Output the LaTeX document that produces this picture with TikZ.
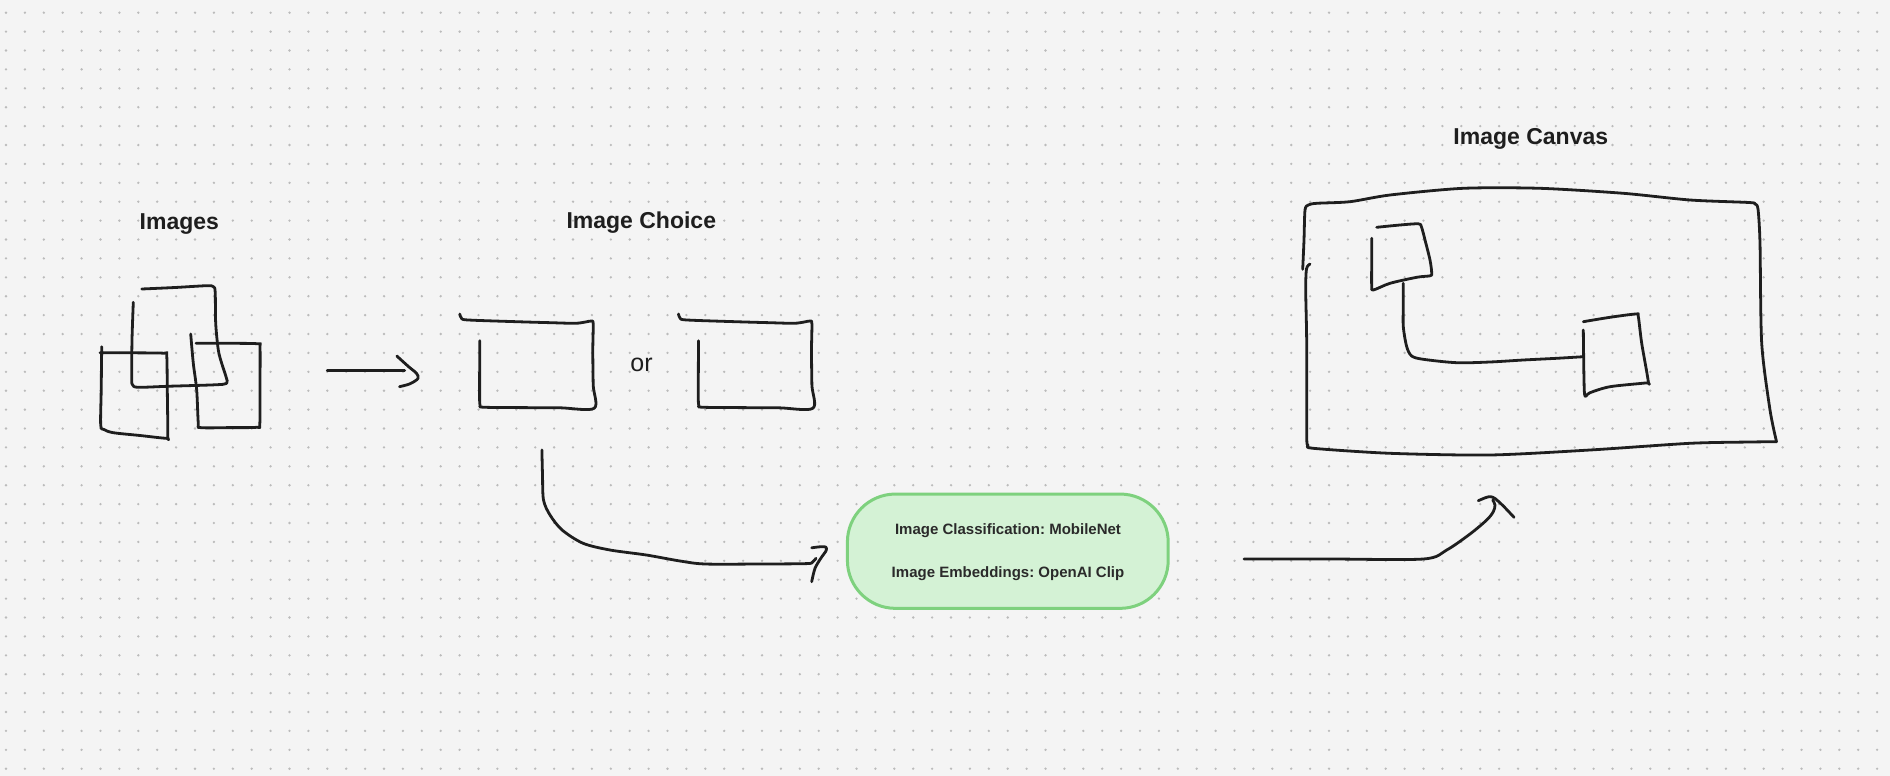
\documentclass[tikz,border=0pt]{standalone}
\usepackage{fontspec}
\setmainfont{Liberation Sans}
\frenchspacing
\definecolor{bgc}{HTML}{F4F4F4}
\definecolor{dotc}{HTML}{BBBBBB}
\definecolor{inkc}{HTML}{1E1E1E}
\definecolor{titlec}{HTML}{1E1E1E}
\definecolor{gfill}{HTML}{D4F2D5}
\definecolor{gline}{HTML}{7ED17E}
\definecolor{gtext}{HTML}{2A2A2A}
\begin{document}
\begin{tikzpicture}[x=0.5pt,y=-0.5pt,
  ink/.style={draw=inkc, line width=1.4pt, line cap=round, line join=round},
  title/.style={font=\bfseries\fontsize{11.5}{14}\selectfont, text=titlec, anchor=base, inner sep=0pt},
  modelbox/.style={draw=gline, fill=gfill, line width=1.5pt, rounded corners=24pt,
     minimum width=160.4pt, minimum height=57.15pt, inner sep=0pt},
  modeltext/.style={font=\bfseries\fontsize{7.5}{9}\selectfont, text=gtext, inner sep=0pt}]
% background and dot grid
\fill[bgc] (0,0) rectangle (1890,776);
\useasboundingbox (0,0) rectangle (1890,776);
\foreach \i in {0,...,99}{\foreach \j in {0,...,40}{\fill[dotc] (6+18.9*\i,12.7+18.9*\j) circle[radius=0.65pt];}}

% titles
\node[title] (tImages) at (179.3,229.5) {Images};
\node[title] (tChoice) at (641.3,228.5) {Image Choice};
\node[title] (tCanvas) at (1530.8,144.3) {Image Canvas};

% ---------- Images group ----------
% back square A
\draw[ink] plot[smooth,tension=0.5] coordinates {(141.7,289) (175,287.5) (206.7,285.7) (213.3,286.7) (215.2,292) (215.7,323.3) (218.3,350) (221.7,363.3) (226,376.7) (226.7,383.3) (215,384.8) (170,386.2) (138.3,387.3) (132.7,385) (131.7,378.3) (132,340) (133.3,302.3)};
% square B
\draw[ink] plot[smooth,tension=0.5] coordinates {(101.7,346.7) (101.2,390) (100.7,425) (104,429.5) (113.3,432.7) (140,435.5) (166.5,438.3) (167.8,436) (167.3,390) (166.7,355) (164,353.2) (130,352.8) (100,352.7)};
% square C
\draw[ink] plot[smooth,tension=0.5] coordinates {(190.7,334) (193.3,363.3) (196.7,390) (198.3,423.3) (200.5,427.6) (230,427.6) (256.7,427.3) (259.8,424) (260,385) (260,347) (258,343.8) (230,343.3) (196,343.3)};

% arrow Images -> Choice
\coordinate (a1s) at (327.2,370.7);
\coordinate (a1e) at (404.7,370.7);
\draw[ink] (a1s) -- (a1e);
\draw[ink] plot[smooth,tension=0.5] coordinates {(396.8,356) (409,367) (416.5,373.3) (418,378.5) (410,383.8) (399.5,386.7)};

% ---------- Image choice boxes ----------
\foreach \dx/\nm in {0/boxA,218.7/boxB}{
 \begin{scope}[shift={(\dx,0)}]
  \draw[ink] plot[smooth,tension=0.5] coordinates {(459.8,314) (461.5,318.3) (468.4,320) (516.6,321.7) (551,322.7) (575.2,323.3) (585.5,322) (591.5,321) (593.2,324) (592.8,350) (593.2,385) (594.1,408.3) (560,407.8) (520,407.6) (483.5,407.2) (480,405) (479.6,390) (479.8,340.7)};
  \coordinate (\nm) at (537,365);
 \end{scope}}
\node[font=\fontsize{12.5}{14}\selectfont, text=inkc, anchor=base, inner sep=0pt] (orT) at (641.5,371.7) {or};

% ---------- curved connector to model box ----------
\coordinate (c2s) at (541.9,450);
\coordinate (c2e) at (816,558.3);
\draw[ink] plot[smooth,tension=0.5] coordinates {(c2s) (542.5,475) (543.5,500) (550,515) (562.1,530) (583.1,543.3) (610,550) (646.3,555) (680,561) (705.2,564) (760,564) (806.7,563.6) (812.5,562) (c2e)};
\draw[ink] plot[smooth,tension=0.5] coordinates {(811.7,547.8) (820,546.8) (825.7,547) (826.2,550.5) (821,558) (815,568.3) (811.7,581.7)};

% ---------- model box ----------
\node[modelbox] (model) at (1007.8,551.2) {};
\node[modeltext] (m1) at (1008,530.7) {Image Classification: MobileNet};
\node[modeltext] (m2) at (1008,573.3) {Image Embeddings: OpenAI Clip};

% ---------- connector to canvas ----------
\coordinate (c3s) at (1244,559);
\coordinate (c3e) at (1492.7,500);
\draw[ink] plot[smooth,tension=0.5] coordinates {(c3s) (1330,559) (1423.3,559) (1446.7,550) (1470,534) (1486.7,520) (1493.3,511.7) (1495,505) (c3e)};
\draw[ink] plot[smooth,tension=0.5] coordinates {(1478.3,500.7) (1486,497.5) (1490.5,496.7) (1495,498.5) (1503.3,506) (1514,517.3)};

% ---------- image canvas ----------
\draw[ink] plot[smooth,tension=0.45] coordinates {(1302.7,269.3) (1304,240) (1305,210) (1308.3,205) (1316.7,203.3) (1350,201.7) (1390,195) (1463.3,188.3) (1540,188.3) (1623.3,193.3) (1690,200) (1749,202.5) (1755,204) (1758,209) (1760,243.3) (1761.7,343.3) (1770,410) (1776.5,441.7)};
\draw[ink] plot[smooth,tension=0.45] coordinates {(1776.5,441.7) (1750,442) (1690,443.3) (1590,450) (1490,455) (1390,453.3) (1313.3,448.3) (1308,445) (1306.7,435) (1306.7,343.3) (1305.7,290) (1306.5,268.8) (1310,264)};
% small square 1
\draw[ink] plot[smooth,tension=0.5] coordinates {(1376.7,227.3) (1400,225) (1418.3,223.8) (1421.4,226.7) (1425,240) (1430,260) (1431.7,273.3) (1430,275.8) (1416.7,277.3) (1390,283.3) (1373.3,290) (1371.7,286) (1371.7,260) (1371.7,238.3)};
% inner connector
\coordinate (k1) at (1403.3,283.3);
\coordinate (k2) at (1583.3,356.7);
\draw[ink] plot[smooth,tension=0.5] coordinates {(k1) (1403.3,305) (1403.3,326.7) (1406.7,346.7) (1411.7,356) (1423.3,359.3) (1456.7,362.7) (1490,362) (1523.3,360) (1556.7,358.3) (k2)};
% small square 2
\draw[ink] plot[smooth,tension=0.5] coordinates {(1583.3,321.7) (1610,317.3) (1636,314) (1638.3,316.5) (1641.7,343.3) (1648.3,381.7) (1646,382.9) (1610,386.7) (1590,392.7) (1585,396) (1584,380) (1583.3,330)};
\end{tikzpicture}
\end{document}
